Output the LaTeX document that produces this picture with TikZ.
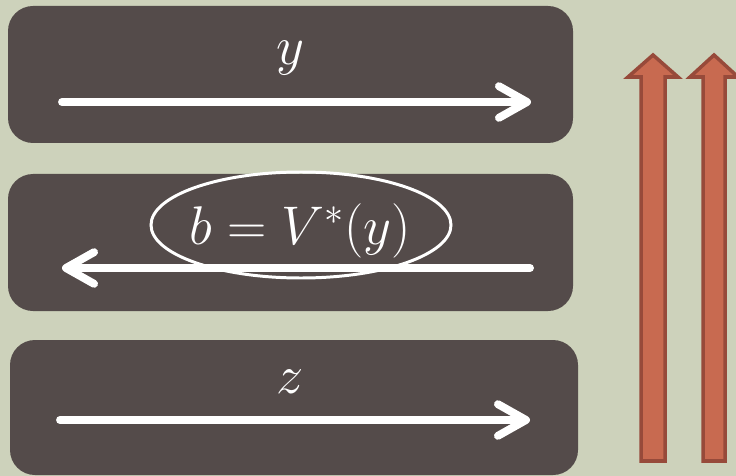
\RequirePackage{fix-cm}
\documentclass[tikz,border=0pt]{standalone}
\usetikzlibrary{arrows.meta}
\definecolor{sage}{HTML}{CDD2BB}
\definecolor{slab}{HTML}{544B4A}
\definecolor{brick}{HTML}{C86A50}
\definecolor{brickline}{HTML}{974A3A}
\tikzset{
  panel/.style={fill=slab, rounded corners=0.5cm},
  flow/.style={white, line width=4.5pt, line cap=round,
    -{Straight Barb[length=16pt, width=18pt, round]}},
  lab/.style={text=white, font=\fontsize{31}{37}\selectfont, anchor=base},
  uparrow/.style={fill=brick, draw=brickline, line width=2pt, line join=miter},
}
\begin{document}
\begin{tikzpicture}[x=0.02cm, y=-0.02cm]
  \fill[sage] (0,0) rectangle (736,476);
  \useasboundingbox (0,0) rectangle (736,476);
  % three panels
  \fill[panel] (8,6) rectangle (573,143);
  \fill[panel] (8,174) rectangle (573,311);
  \fill[panel] (10,340) rectangle (578,475);
  % top panel: y, forward
  \node[lab] (ylab) at (290,65) {$y$};
  \coordinate (ystart) at (62,102);
  \coordinate (yend) at (531,102);
  \draw[flow] (ystart) -- (yend);
  % middle panel: b = V*(y), backward
  \node[lab] (bval) at (300,244) {$b = V^*(y)$};
  \draw[white, line width=1.7pt] (301,225) ellipse [x radius=150, y radius=53];
  \coordinate (bstart) at (530,268);
  \coordinate (bend) at (62,268);
  \draw[flow] (bstart) -- (bend);
  % bottom panel: z, forward
  \node[lab] (zlab) at (290,393) {$z$};
  \coordinate (zstart) at (60,420);
  \coordinate (zend) at (530,420);
  \draw[flow] (zstart) -- (zend);
  % two upward arrows on the right
  \draw[uparrow] (641,461) -- (641,77) -- (628,77) -- (653,55) -- (678,77)
    -- (665,77) -- (665,461) -- cycle;
  \draw[uparrow] (703,461) -- (703,77) -- (690,77) -- (714,55) -- (738,77)
    -- (725,77) -- (725,461) -- cycle;
\end{tikzpicture}
\end{document}
